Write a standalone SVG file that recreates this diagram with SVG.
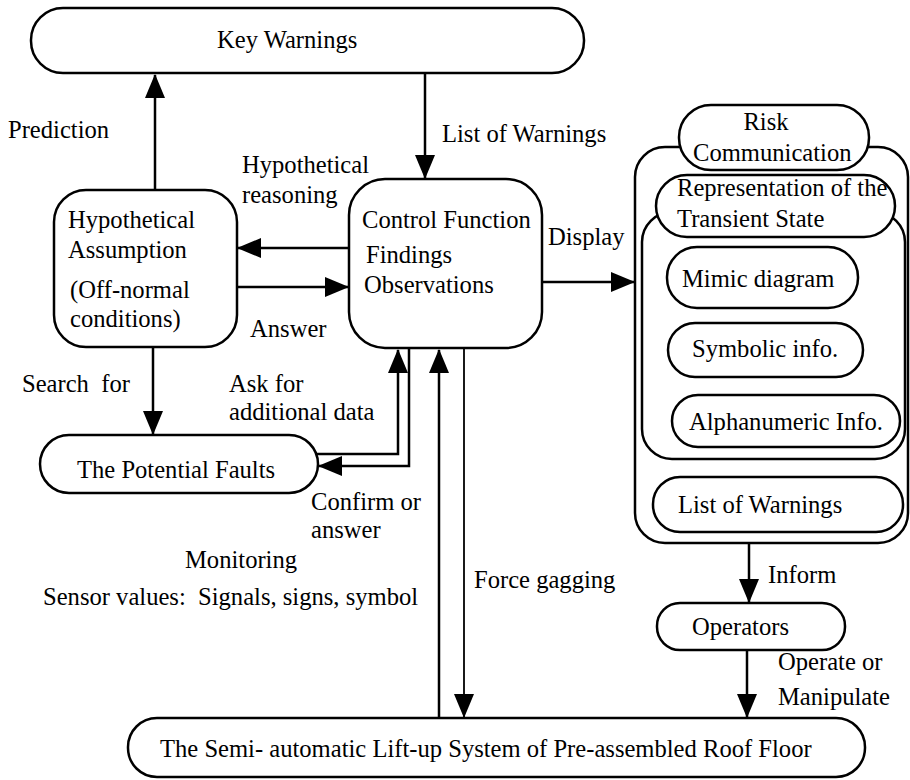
<svg xmlns="http://www.w3.org/2000/svg" width="910" height="780" viewBox="0 0 910 780">
<style>
  .box { fill: #ffffff; stroke: #000000; stroke-width: 2.5; }
  .t { font-family: "Liberation Serif", "Times New Roman", serif; font-size: 24.6px; fill: #000000; }
  .c { stroke: #000000; stroke-width: 2.5; fill: none; }
  .thin { stroke: #000000; stroke-width: 1.8; fill: none; }
</style>
<defs>
  <marker id="arr" viewBox="0 0 24 20" refX="23" refY="10" markerWidth="24" markerHeight="20" markerUnits="userSpaceOnUse" orient="auto">
    <path d="M0,0 L24,10 L0,20 Z" fill="#000000"/>
  </marker>
</defs>
<rect width="910" height="780" fill="#ffffff"/>

<g id="connectors">
  <line class="c" x1="155" y1="190" x2="155" y2="75" marker-end="url(#arr)"/>
  <line class="c" x1="425" y1="73" x2="425" y2="178" marker-end="url(#arr)"/>
  <line class="c" x1="349" y1="248" x2="238" y2="248" marker-end="url(#arr)"/>
  <line class="c" x1="237" y1="287" x2="348" y2="287" marker-end="url(#arr)"/>
  <line class="c" x1="542" y1="282" x2="634" y2="282" marker-end="url(#arr)"/>
  <line class="c" x1="153" y1="347" x2="153" y2="434" marker-end="url(#arr)"/>
  <polyline class="c" points="314,454 398,454 398,350" marker-end="url(#arr)"/>
  <polyline class="c" points="409,348 409,466 319,466" marker-end="url(#arr)"/>
  <line class="c" x1="439" y1="718" x2="439" y2="350" marker-end="url(#arr)"/>
  <line class="thin" x1="464" y1="348" x2="464" y2="717" marker-end="url(#arr)"/>
  <line class="c" x1="749" y1="543" x2="749" y2="602" marker-end="url(#arr)"/>
  <line class="c" x1="747" y1="650" x2="747" y2="717" marker-end="url(#arr)"/>
</g>

<g id="key-warnings">
  <rect class="box" x="31" y="8" width="553" height="65" rx="32" ry="32"/>
  <text class="t" x="217" y="48">Key Warnings</text>
</g>

<g id="hypothetical-assumption">
  <rect class="box" x="54" y="190" width="183" height="157" rx="32" ry="32"/>
  <text class="t" x="68" y="228">Hypothetical</text>
  <text class="t" x="68" y="258">Assumption</text>
  <text class="t" x="70" y="298">(Off-normal</text>
  <text class="t" x="70" y="327">conditions)</text>
</g>

<g id="control-function">
  <rect class="box" x="349" y="179" width="193" height="169" rx="36" ry="36"/>
  <text class="t" x="362" y="228">Control Function</text>
  <text class="t" x="366" y="263">Findings</text>
  <text class="t" x="364" y="293">Observations</text>
</g>

<g id="potential-faults">
  <rect class="box" x="40" y="435" width="278" height="58" rx="29" ry="29"/>
  <text class="t" x="77" y="478">The Potential Faults</text>
</g>

<g id="risk-communication">
  <rect class="box" x="635" y="147" width="273" height="396" rx="30" ry="30"/>
  <rect class="box" x="642" y="212" width="263" height="247" rx="30" ry="30"/>
  <rect class="box" x="656" y="175" width="239" height="62" rx="31" ry="31"/>
  <text class="t" x="677" y="196">Representation of the</text>
  <text class="t" x="677" y="227">Transient State</text>
  <rect class="box" x="679" y="105" width="190" height="65" rx="32" ry="32"/>
  <text class="t" x="766" y="130" text-anchor="middle">Risk</text>
  <text class="t" x="693" y="161">Communication</text>
</g>

<g id="mimic-diagram">
  <rect class="box" x="667" y="247" width="191" height="61" rx="30" ry="30"/>
  <text class="t" x="682" y="287">Mimic diagram</text>
</g>

<g id="symbolic-info">
  <rect class="box" x="668" y="323" width="195" height="54" rx="27" ry="27"/>
  <text class="t" x="692" y="357">Symbolic info.</text>
</g>

<g id="alphanumeric-info">
  <rect class="box" x="672" y="395" width="228" height="52" rx="26" ry="26"/>
  <text class="t" x="689" y="430">Alphanumeric Info.</text>
</g>

<g id="list-of-warnings-box">
  <rect class="box" x="653" y="477" width="250" height="55" rx="27" ry="27"/>
  <text class="t" x="678" y="513">List of Warnings</text>
</g>

<g id="operators">
  <rect class="box" x="657" y="603" width="188" height="47" rx="23" ry="23"/>
  <text class="t" x="692" y="635">Operators</text>
</g>

<g id="lift-up-system">
  <rect class="box" x="128" y="718" width="737" height="59" rx="29" ry="29"/>
  <text class="t" x="160" y="757">The Semi- automatic Lift-up System of Pre-assembled Roof Floor</text>
</g>

<g id="labels">
  <text class="t" x="8" y="138">Prediction</text>
  <text class="t" x="442" y="142">List of Warnings</text>
  <text class="t" x="242" y="173">Hypothetical</text>
  <text class="t" x="242" y="203">reasoning</text>
  <text class="t" x="548" y="245">Display</text>
  <text class="t" x="250" y="337">Answer</text>
  <text class="t" x="22" y="392" xml:space="preserve">Search  for</text>
  <text class="t" x="229" y="392">Ask for</text>
  <text class="t" x="229" y="420">additional data</text>
  <text class="t" x="311" y="510">Confirm or</text>
  <text class="t" x="311" y="538">answer</text>
  <text class="t" x="185" y="568">Monitoring</text>
  <text class="t" x="43" y="605" xml:space="preserve">Sensor values:  Signals, signs, symbol</text>
  <text class="t" x="474" y="588">Force gagging</text>
  <text class="t" x="768" y="583">Inform</text>
  <text class="t" x="778" y="670">Operate or</text>
  <text class="t" x="778" y="705">Manipulate</text>
</g>
</svg>
